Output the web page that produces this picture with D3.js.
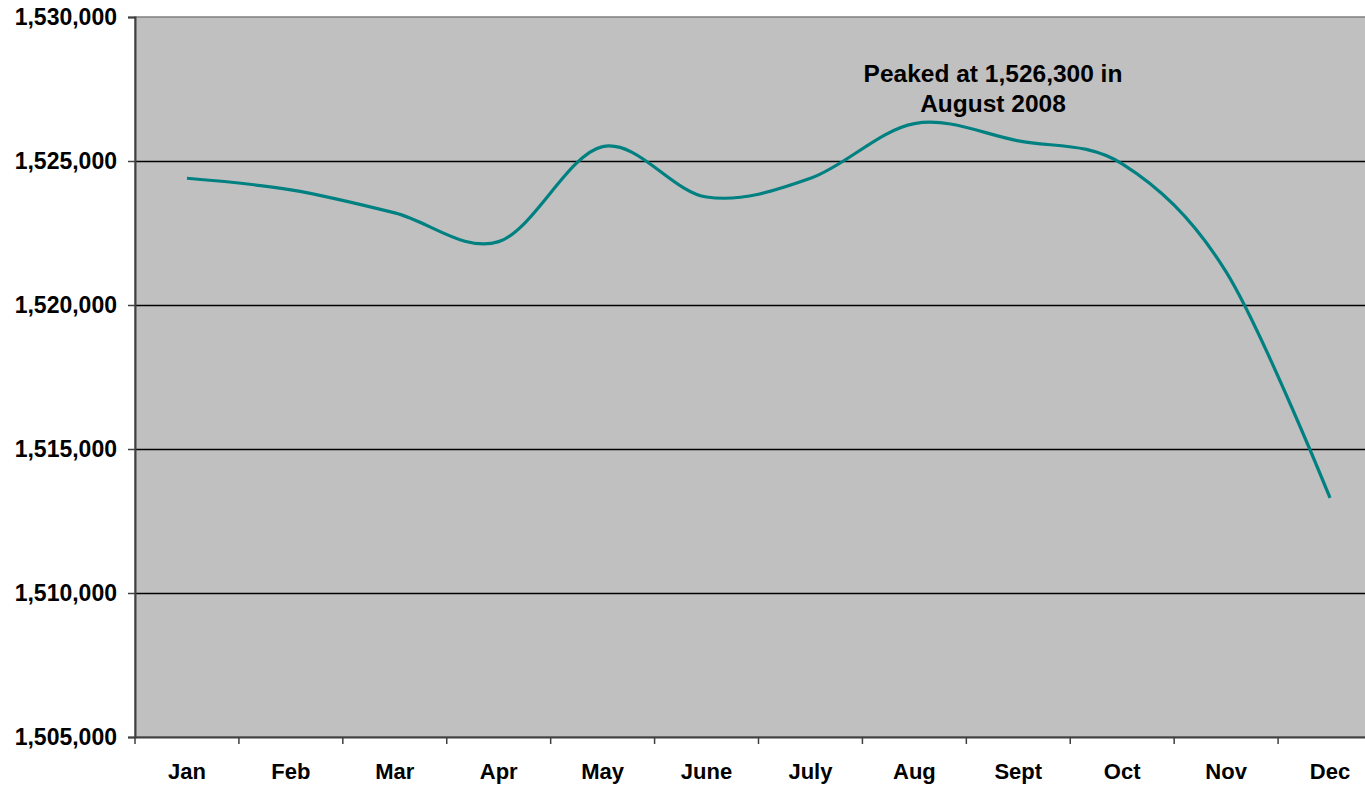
<!DOCTYPE html>
<html>
<head>
<meta charset="utf-8">
<script src="https://cdn.jsdelivr.net/npm/d3@7"></script>
<style>
  body { margin: 0; background: #fff; }
  text { font-family: "Liberation Sans", Arial, sans-serif; font-weight: bold; fill: #000; }
</style>
</head>
<body>
<div id="chart-area"></div>
<script>
var months = ["Jan", "Feb", "Mar", "Apr", "May", "June", "July", "Aug", "Sept", "Oct", "Nov", "Dec"];
var employment = [1524400, 1524000, 1523200, 1522200, 1525500, 1523750, 1524400, 1526300, 1525700, 1524900, 1521150, 1513300];
var yTicks = [1505000, 1510000, 1515000, 1520000, 1525000, 1530000];
var noteLines = ["Peaked at 1,526,300 in", "August 2008"];

var width = 1365;
var height = 785;
var plotLeft = 135, plotRight = 1382, plotTop = 17, plotBottom = 737;

var svg = d3.select("#chart-area")
    .append("svg")
    .attr("width", width)
    .attr("height", height);

var x = d3.scaleBand()
    .domain(months)
    .range([plotLeft, plotRight]);

var y = d3.scaleLinear()
    .domain([1505000, 1530000])
    .range([plotBottom, plotTop]);

// plot background
svg.append("rect")
    .attr("x", plotLeft)
    .attr("y", plotTop)
    .attr("width", plotRight - plotLeft)
    .attr("height", plotBottom - plotTop)
    .attr("fill", "#c0c0c0")
    .attr("stroke", "#808080")
    .attr("stroke-width", 1.5);

// gridlines
svg.selectAll(".grid")
    .data(yTicks.slice(1, -1))
    .enter()
    .append("line")
    .attr("x1", plotLeft)
    .attr("x2", plotRight)
    .attr("y1", function(d) { return Math.round(y(d)) + 0.5; })
    .attr("y2", function(d) { return Math.round(y(d)) + 0.5; })
    .attr("stroke", "#000")
    .attr("stroke-width", 1.3);

// y axis
var yAxis = svg.append("g")
    .attr("transform", "translate(" + plotLeft + ",0)")
    .call(d3.axisLeft(y)
        .tickValues(yTicks)
        .tickSize(7)
        .tickPadding(11)
        .tickFormat(d3.format(",")));

// x axis
var xAxis = svg.append("g")
    .attr("transform", "translate(0," + plotBottom + ")")
    .call(d3.axisBottom(x).tickSize(0).tickPadding(26));

// x tick marks between categories
svg.selectAll(".xtick")
    .data(months)
    .enter()
    .append("line")
    .attr("x1", function(d) { return x(d); })
    .attr("x2", function(d) { return x(d); })
    .attr("y1", plotBottom)
    .attr("y2", plotBottom + 7)
    .attr("stroke", "#404040")
    .attr("stroke-width", 1.5);

[yAxis, xAxis].forEach(function(g) {
    g.select(".domain").attr("stroke", "#404040").attr("stroke-width", 2);
    g.selectAll(".tick line").attr("stroke", "#404040").attr("stroke-width", 1.5);
    g.selectAll("text")
        .style("font-size", "22px")
        .style("font-weight", "bold")
        .attr("fill", "#000");
});
yAxis.selectAll("text").style("font-size", "23px");

// line
var line = d3.line()
    .x(function(d, i) { return x(months[i]) + x.bandwidth() / 2; })
    .y(function(d) { return y(d); })
    .curve(d3.curveCardinal.tension(0));

svg.append("path")
    .datum(employment)
    .attr("d", line)
    .attr("fill", "none")
    .attr("stroke", "#008080")
    .attr("stroke-width", 3.2);

// annotation
svg.append("text")
    .attr("x", 993)
    .attr("y", 82)
    .attr("text-anchor", "middle")
    .style("font-size", "24.5px")
    .selectAll("tspan")
    .data(noteLines)
    .enter()
    .append("tspan")
    .attr("x", 993)
    .attr("dy", function(d, i) { return i === 0 ? 0 : 30; })
    .text(function(d) { return d; });
</script>
</body>
</html>
